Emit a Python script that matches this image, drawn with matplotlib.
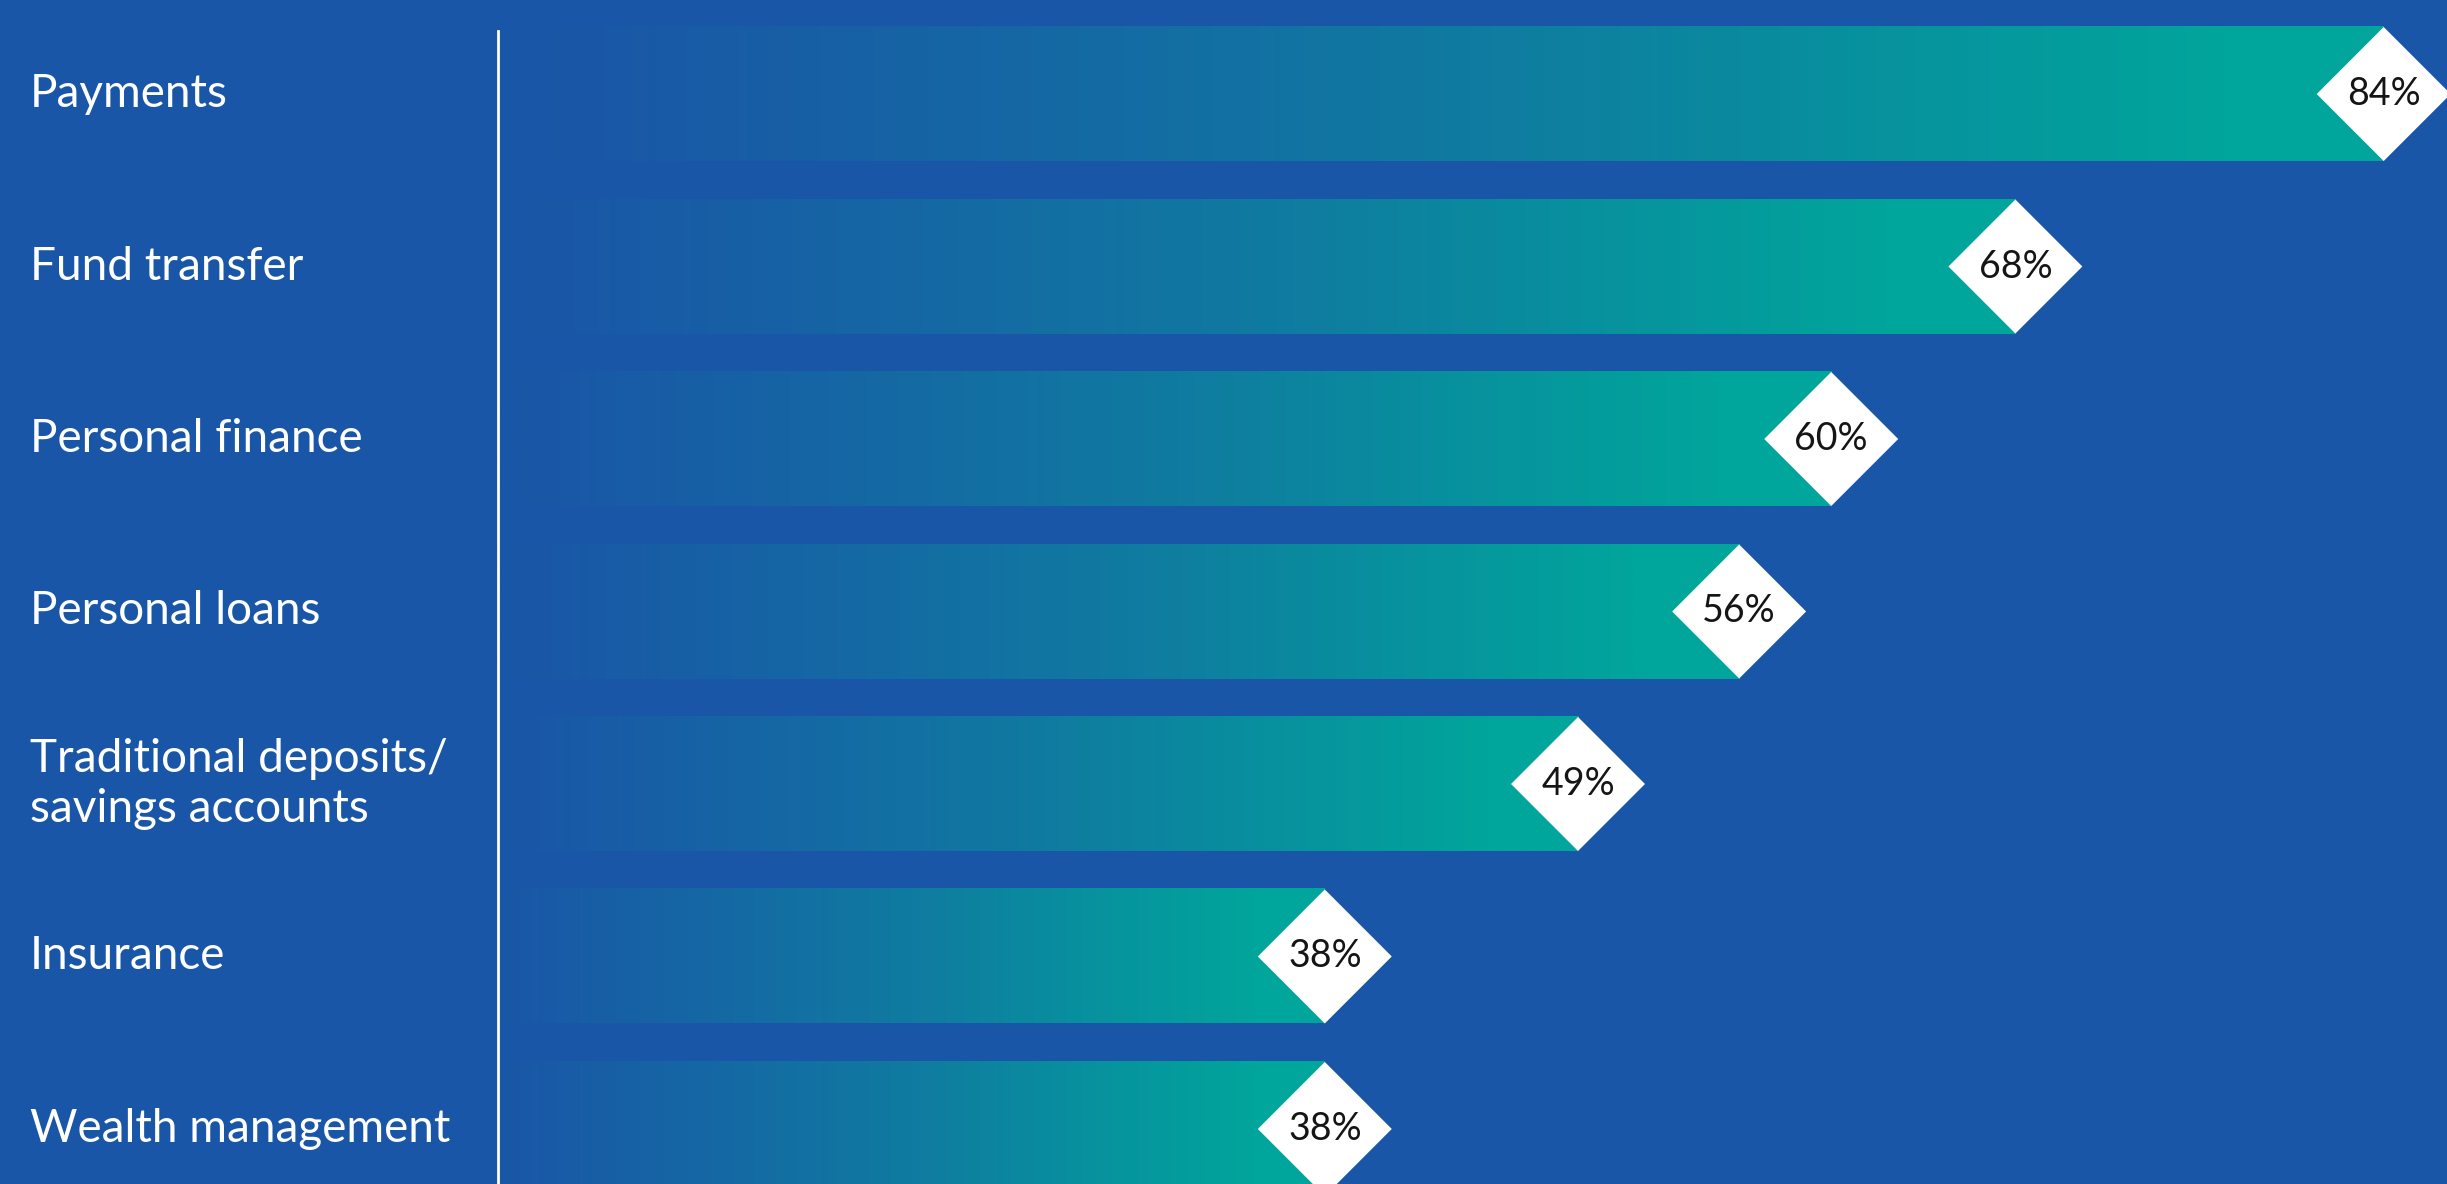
import numpy as np
import matplotlib
matplotlib.use("Agg")
import matplotlib.pyplot as plt
from matplotlib.colors import LinearSegmentedColormap
from matplotlib.patches import Polygon
from matplotlib.transforms import blended_transform_factory

# chart data
categories = ["Payments", "Fund transfer", "Personal finance", "Personal loans",
              "Traditional deposits/\nsavings accounts", "Insurance", "Wealth management"]
values = [84, 68, 60, 56, 49, 38, 38]

bg = "#1A56A7"
grad = LinearSegmentedColormap.from_list("bar_grad", [
    (0.0, bg), (0.05, bg), (0.3, "#1568A4"), (0.55, "#0F7DA0"),
    (0.75, "#07939E"), (0.92, "#01A59B"), (1.0, "#00A69B")])

fig = plt.figure(figsize=(24.47, 11.84), dpi=100, facecolor=bg)
ax = fig.add_axes([497 / 2447, 0, 1 - 497 / 2447, 1])
ax.set_facecolor(bg)

bar_h = 0.777
ramp = np.linspace(0, 1, 512).reshape(1, -1)
for i, v in enumerate(values):
    ax.imshow(ramp, extent=(0, v, i + bar_h / 2, i - bar_h / 2), aspect="auto",
              cmap=grad, interpolation="bilinear", zorder=1)
    dx = 2.91
    dy = bar_h / 2
    ax.add_patch(Polygon([(v - dx, i), (v, i - dy), (v + dx, i), (v, i + dy)],
                         closed=True, facecolor="white", edgecolor="none", zorder=2))
    ax.text(v, i, f"{v}%", ha="center", va="center", fontsize=27,
            family="Lato", color="#151515", zorder=3)

xmin, xmax = 2.04, 86.75
ax.set_xlim(xmin, xmax)
ax.set_ylim(6.319, -0.545)
ax.axis("off")

# separator line between labels and bars
ax.axvline(xmin + 0.03, ymin=0, ymax=0.974, color="white", lw=2, zorder=4, clip_on=False)

# category labels on the left
lab_trans = blended_transform_factory(fig.transFigure, ax.transData)
for i, c in enumerate(categories):
    ax.text(30 / 2447, i, c, transform=lab_trans, ha="left", va="center",
            fontsize=33, family="Lato", color="white",
            linespacing=1.25, clip_on=False)

fig.savefig("out.png", dpi=100, facecolor=bg)
